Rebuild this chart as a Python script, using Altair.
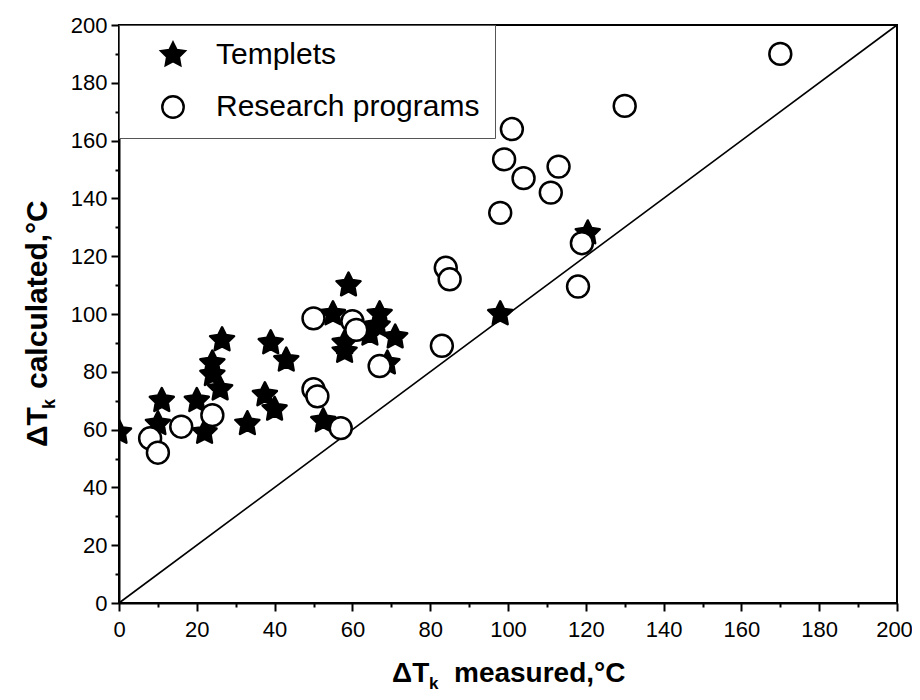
import altair as alt
import pandas as pd

# --- data ---
templets_x = [0, 10, 11, 20, 22, 24, 24, 26, 26.5, 33, 37.5, 39, 40, 43, 52.5,
              55, 59, 58, 58, 67, 66.5, 64.5, 71, 69, 120.5, 98]
templets_y = [59, 62, 70, 70, 59, 83, 79, 74, 91, 62, 72, 90, 67, 84, 63,
              100, 110, 90, 87, 100, 96, 93, 92, 83, 128, 100]

research_x = [24, 16, 8, 10, 50, 60, 61, 67, 50, 51, 57, 83, 84, 85, 101, 99,
              104, 113, 111, 98, 119, 118, 130, 170]
research_y = [65, 61, 57, 52, 98.5, 97.5, 94.5, 82, 74, 71.5, 60.5, 89, 116, 112,
              164, 153.5, 147, 151, 142, 135, 124.5, 109.5, 172, 190]

series_names = ["Templets", "Research programs"]
diag = [0, 200]
axis_min, axis_max = 0, 200
tick_values = list(range(0, 201, 10))

df = pd.DataFrame({"x": templets_x, "y": templets_y, "series": series_names[0]})
df = pd.concat(
    [df, pd.DataFrame({"x": research_x, "y": research_y, "series": series_names[1]})],
    ignore_index=True,
)
df_diag = pd.DataFrame({"x": diag, "y": diag})

# five-pointed star as a custom symbol path (unit coordinates)
STAR = ("M0,-1.15L0.338,-0.465L1.094,-0.355L0.547,0.178L0.676,0.93"
        "L0,0.575L-0.676,0.93L-0.547,0.178L-1.094,-0.355L-0.338,-0.465Z")

FONT = "Liberation Sans"
major = "datum.value % 20 === 0"

def axis(pad, last_shift=0):
    kw = dict(
        values=tick_values,
        labelExpr=f"{major} ? datum.label : ''",
        tickSize={"condition": {"test": major, "value": 8}, "value": 4},
        title=None, grid=False, labelOverlap=False, labelFlush=False,
        domainColor="black", domainWidth=2, tickColor="black", tickWidth=2,
        labelFontSize=22, labelFont=FONT, labelColor="black", labelPadding=pad,
    )
    if last_shift:
        kw["labelOffset"] = {"condition": {"test": f"datum.value === {axis_max}",
                                           "value": last_shift}, "value": 0}
    return alt.Axis(**kw)

xs = alt.Scale(domain=[axis_min, axis_max], nice=False, zero=False)
ys = alt.Scale(domain=[axis_min, axis_max], nice=False, zero=False)
X = alt.X("x:Q", scale=xs, axis=axis(8, last_shift=-3))
Y = alt.Y("y:Q", scale=ys, axis=axis(4))

line = alt.Chart(df_diag).mark_line(color="black", strokeWidth=1.6).encode(x=X, y=Y)

leg = alt.Legend(
    orient="none", legendX=0, legendY=0, title=None,
    labelFontSize=30, labelFont=FONT, labelColor="black", labelLimit=500,
    symbolSize=460, symbolStrokeWidth=2.4, symbolStrokeColor="black",
    padding=15, rowPadding=21, symbolOffset=24, labelOffset=28,
    strokeColor="#555555", fillColor="white",
    labelExpr="datum.label == 'Research programs' ? '\u00a0' + datum.label : datum.label",
)

points = alt.Chart(df).mark_point(
    filled=True, strokeWidth=2.5, opacity=1, size=480,
    strokeJoin="round", clip=True,
).encode(
    x=X, y=Y,
    shape=alt.Shape("series:N", scale=alt.Scale(domain=series_names, range=[STAR, "circle"]),
                    legend=leg),
    fill=alt.Fill("series:N", scale=alt.Scale(domain=series_names, range=["black", "white"]),
                  legend=leg),
    stroke=alt.Stroke("series:N", scale=alt.Scale(domain=series_names, range=["black", "black"]),
                      legend=leg),
)

one = pd.DataFrame({"a": [0]})

def txt(text, x, y, size, angle=0):
    return alt.Chart(one).mark_text(
        text=text, font=FONT, fontSize=size, fontWeight="bold", color="black",
        align="left", baseline="middle", angle=angle,
    ).encode(x=alt.value(x), y=alt.value(y))

x_title = [
    txt("ΔT", 273, 649, 28),
    txt("k", 310, 659, 17),
    txt("measured,°C", 335, 649, 28),
]
y_title = [
    txt("ΔT", -81, 422, 30, angle=270),
    txt("k", -69, 384, 18, angle=270),
    txt("calculated,°C", -81, 364, 30, angle=270),
]

chart = alt.layer(line, points, *x_title, *y_title).properties(
    width=778, height=578,
    padding={"left": 111, "top": 17, "right": 15, "bottom": 89},
    autosize="none",
).configure_view(stroke="black", strokeWidth=2)

chart.save("out.html", embed_options={"renderer": "svg", "actions": False})
